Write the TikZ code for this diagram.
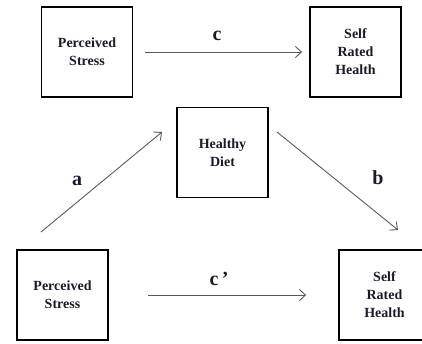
\documentclass[tikz,border=0pt]{standalone}
\usepackage{fontspec}
\setmainfont{Liberation Serif}
\usetikzlibrary{arrows.meta}
\definecolor{arrowgray}{HTML}{5A5A5A}
\definecolor{textnavy}{HTML}{1A1A2A}
\tikzset{
  varbox/.style={draw=black, line width=1.8pt, minimum width=91pt, minimum height=90pt,
    align=center, font=\fontsize{14}{18}\selectfont\bfseries, text=textnavy, inner sep=0pt},
  path label/.style={font=\fontsize{20}{22}\selectfont\bfseries, text=textnavy},
  path arrow/.style={color=arrowgray, line width=0.9pt, -{Straight Barb[length=6pt,width=11pt]}}
}
\begin{document}
\begin{tikzpicture}[x=1pt,y=-1pt]
   \useasboundingbox (0,0) rectangle (422,343);
   % total effect
   \node[varbox] (ps_top)  at (87,52)    {Perceived\\Stress};
   \node[varbox] (srh_top) at (355.5,52) {Self\\Rated\\Health};
   % mediation
   \node[varbox] (diet)    at (222.5,152.5) {Healthy\\Diet};
   \node[varbox] (ps_bot)  at (62.5,295) {Perceived\\Stress};
   \node[varbox] (srh_bot) at (384.5,295) {Self\\Rated\\Health};
   \coordinate (a_from) at (41,232);
   \coordinate (a_to)   at (162,132);
   \coordinate (b_from) at (277,132);
   \coordinate (b_to)   at (398,230);
    \path[path arrow]
    (ps_top) edge [shorten <=12pt, shorten >=7pt] (srh_top)
    (ps_bot) edge [shorten <=39pt, shorten >=32pt] (srh_bot)
    (a_from) edge (a_to)
    (b_from) edge (b_to);
   \node[path label] (lab_c)  at (217,36)  {c};
   \node[path label] (lab_cp) at (219,279) {c\,’};
   \node[path label] (lab_a)  at (77,181)  {a};
   \node[path label] (lab_b)  at (378,178) {b};
\end{tikzpicture}
\end{document}
